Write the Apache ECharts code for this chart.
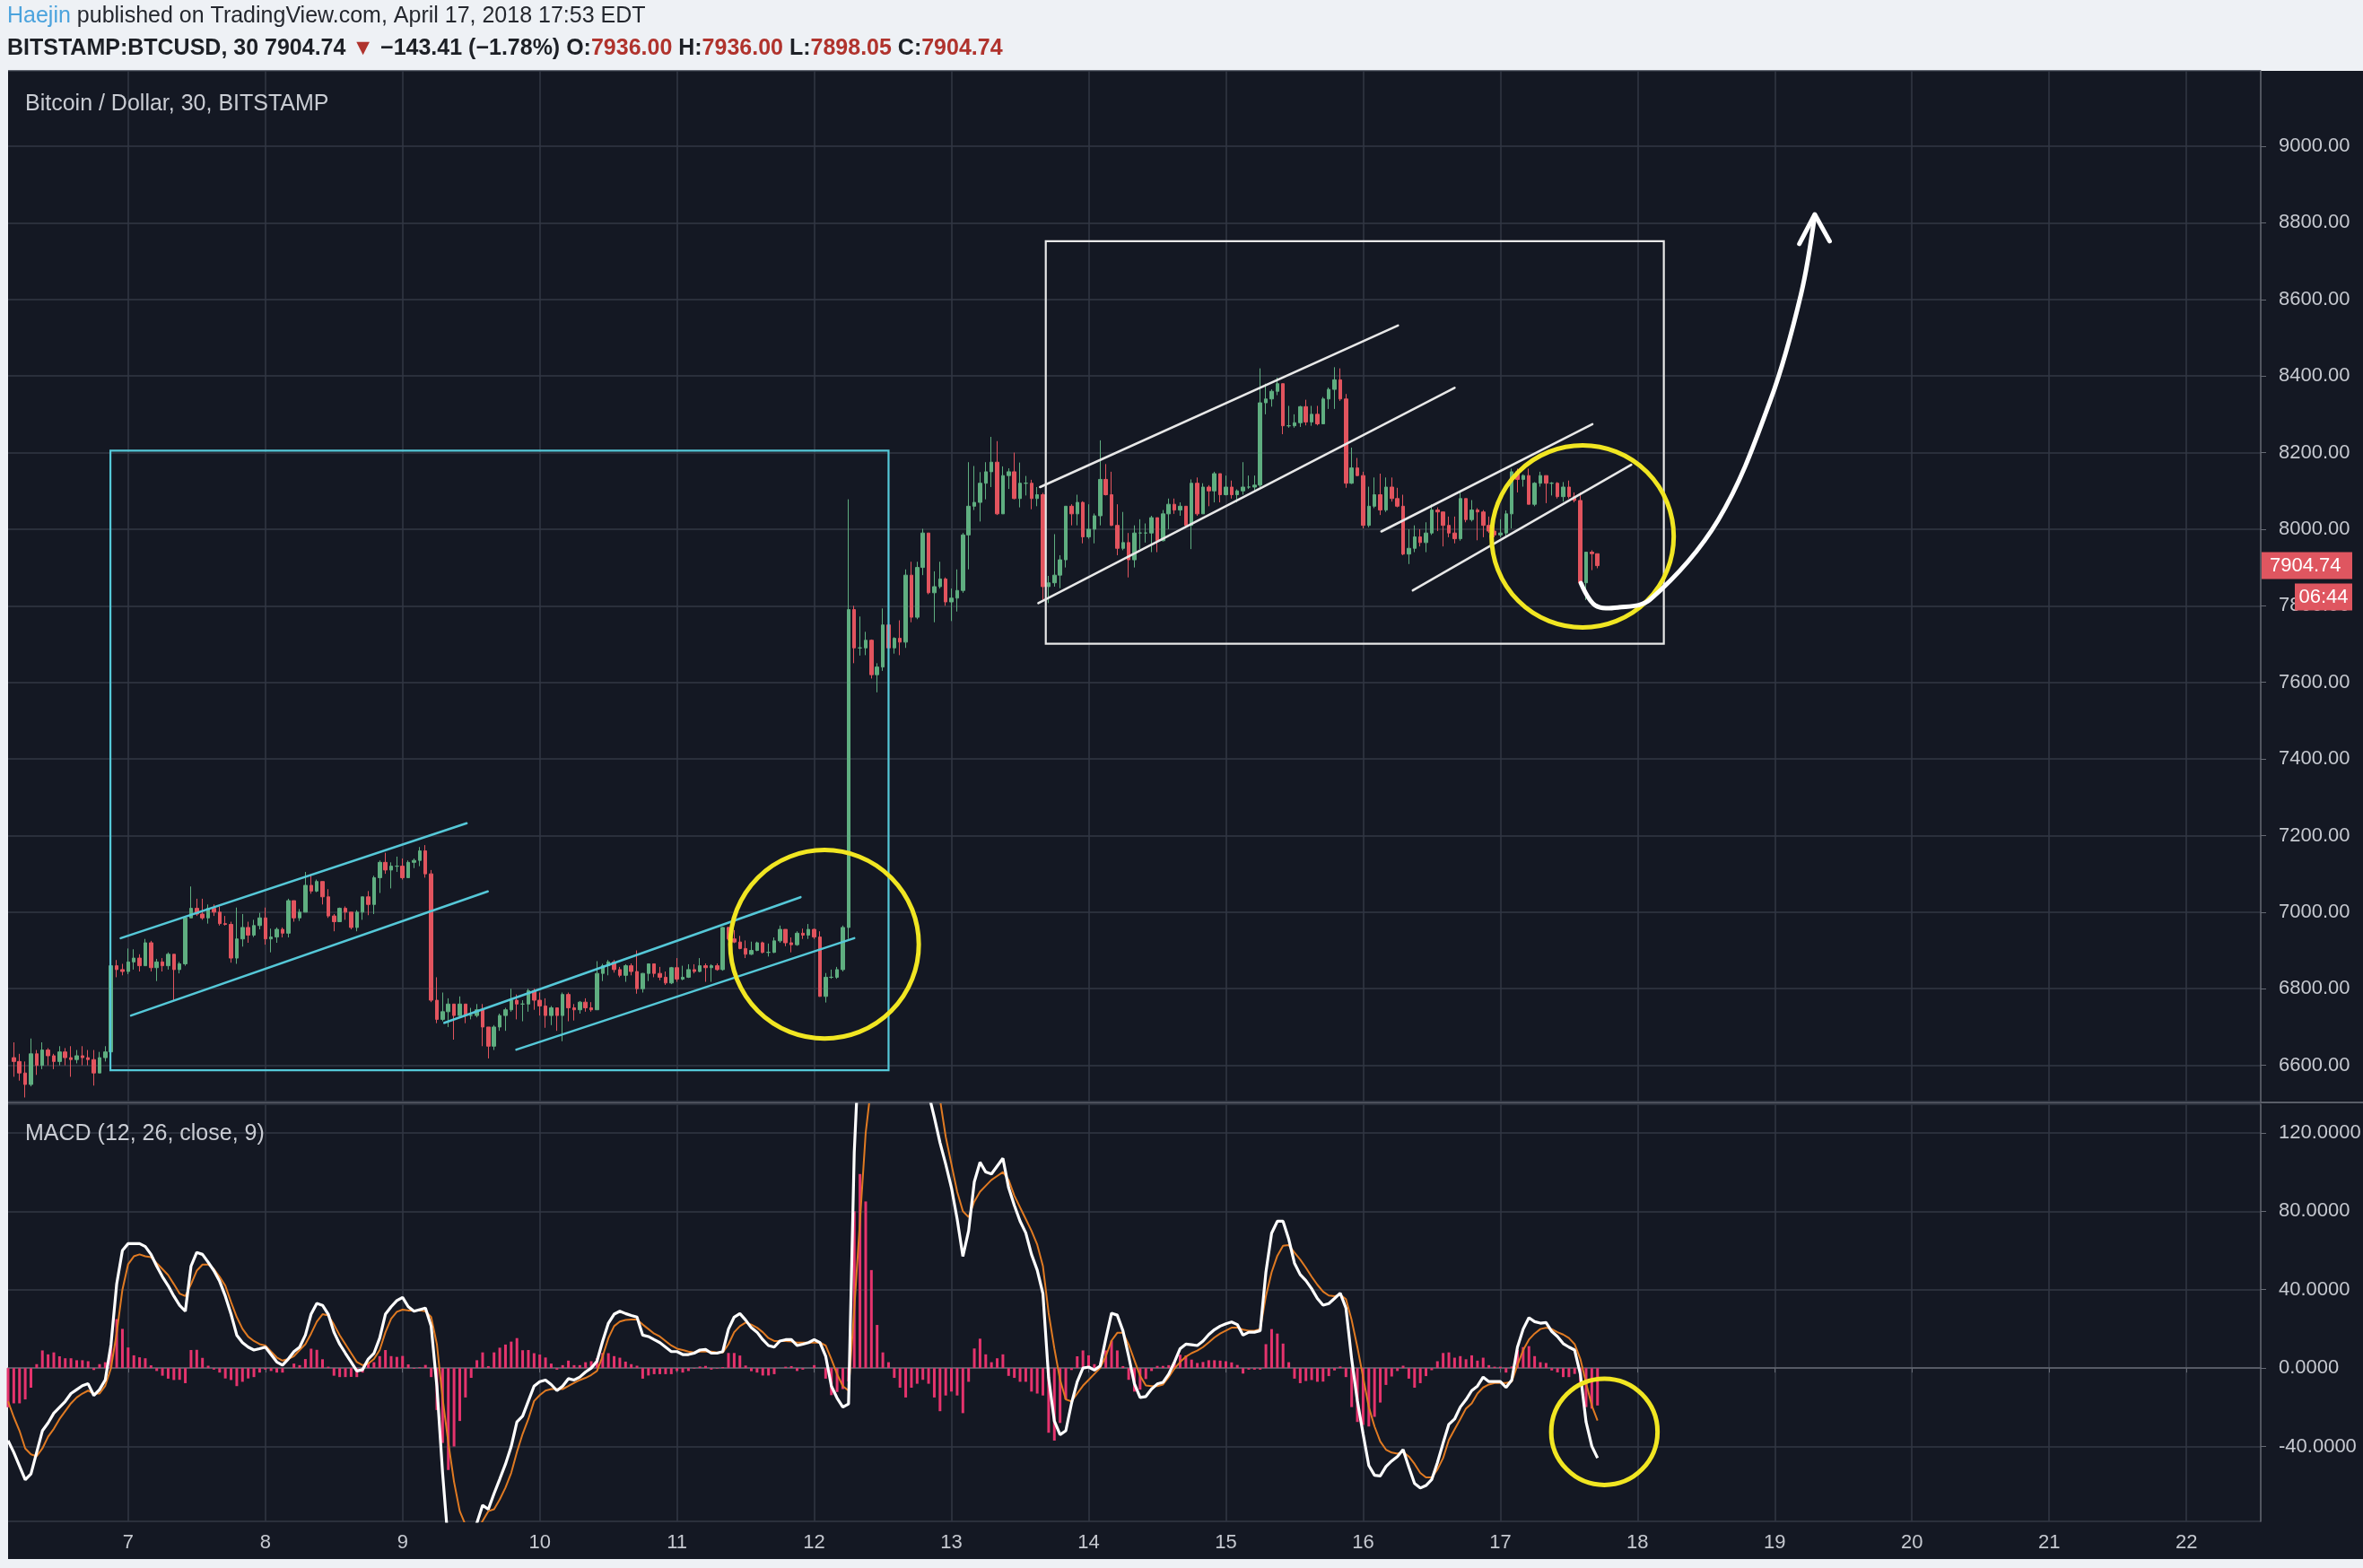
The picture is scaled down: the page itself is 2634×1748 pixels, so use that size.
<!DOCTYPE html>
<html><head><meta charset="utf-8">
<script src="https://cdn.jsdelivr.net/npm/echarts@6.0.0/dist/echarts.min.js"></script>
<style>html,body{margin:0;padding:0;background:#eef1f5;}#c{width:2634px;height:1748px;}</style>
</head><body><div id="c"></div>
<script>
// ---------- DATA (hourly slots; slot 21 = April 7 00:00) ----------
const SLOT_COUNT = 395;
const FIRST_DAY_SLOT = 21;
const SLOTS_PER_DAY = 24;
const dayLabels = ['7','8','9','10','11','12','13','14','15','16','17','18','19','20','21','22'];

const firstCandleSlot = 1;
const firstOpen = 6620;
const closes = [
6610,6580,6550,6630,6600,6640,6625,6610,6635,6620,
6615,6625,6620,6615,6580,6620,6635,6860,6850,6845,
6870,6880,6860,6920,6855,6870,6860,6890,6850,6865,
6985,7010,6995,6985,7010,7000,6970,6968,6880,6930,
6960,6940,6965,6985,6930,6935,6955,6945,7030,6985,
7000,7070,7055,7080,7040,6990,6975,7010,7000,6960,
7000,7040,7020,7090,7130,7110,7120,7120,7090,7130,
7135,7160,7100,6770,6720,6740,6760,6730,6760,6730,
6730,6745,6700,6650,6700,6730,6745,6770,6760,6760,
6795,6770,6755,6730,6750,6730,6785,6750,6745,6765,
6750,6745,6840,6860,6870,6850,6835,6860,6845,6800,
6840,6865,6840,6830,6815,6855,6825,6830,6850,6845,
6860,6855,6860,6850,6960,6930,6922,6905,6890,6900,
6920,6895,6895,6925,6955,6920,6915,6945,6940,6955,
6935,6780,6830,6830,6850,6960,7790,7690,7690,7710,
7620,7640,7750,7690,7715,7705,7880,7770,7900,7990,
7834,7850,7870,7810,7820,7840,7985,8060,8070,8120,
8150,8175,8040,8140,8150,8080,8120,8120,8080,8090,
7850,7860,7880,7920,8060,8040,8070,7980,8000,8035,
8130,8090,8010,7950,7965,7920,7990,7990,7990,8030,
7970,8040,8065,8050,8060,8010,8120,8040,8110,8100,
8145,8090,8110,8090,8100,8110,8110,8115,8330,8340,
8360,8380,8270,8270,8278,8320,8280,8300,8275,8340,
8365,8390,8340,8120,8160,8140,8010,8060,8090,8050,
8110,8080,8060,7935,7950,7980,7965,7990,8050,8045,
8010,7990,7975,8080,8025,8050,8045,8010,7995,7985,
7990,8040,8150,8130,8140,8065,8120,8140,8120,8120,
8085,8110,8085,8075,7860,7940,7936,7904.74];
const highs = [
6660,6630,6610,6670,6640,6660,6645,6630,6650,6645,
6650,6640,6650,6640,6640,6635,6650,6905,6875,6865,
6905,6903,6890,6930,6925,6878,6880,6895,6890,6870,
6990,7067,7035,7035,7020,7020,7015,6990,6975,7012,
6995,6975,6980,6998,7012,6957,6960,6960,7035,7030,
7008,7105,7100,7085,7080,7060,6995,7012,7015,7000,
7005,7040,7055,7095,7135,7155,7130,7145,7140,7135,
7140,7170,7175,7110,6830,6790,6775,6760,6780,6760,
6750,6760,6760,6700,6705,6735,6750,6800,6785,6770,
6800,6800,6790,6775,6755,6750,6790,6790,6760,6768,
6775,6765,6872,6865,6875,6875,6857,6864,6866,6900,
6841,6866,6865,6857,6845,6857,6880,6860,6864,6864,
6880,6866,6864,6866,6961,6962,6953,6938,6926,6923,
6923,6923,6918,6934,6965,6955,6934,6950,6957,6969,
6957,6950,6841,6850,6857,6965,8078,7800,7772,7732,
7712,7650,7793,7752,7718,7762,7895,7915,7915,8001,
7990,7890,7915,7874,7845,7895,7990,8175,8165,8149,
8175,8241,8230,8164,8159,8200,8174,8139,8129,8110,
8095,7878,7987,7932,8060,8065,8090,8073,8065,8041,
8232,8170,8150,8065,8045,7990,8010,8026,8015,8035,
8030,8050,8080,8080,8070,8060,8130,8135,8120,8115,
8150,8145,8140,8127,8104,8175,8140,8140,8420,8380,
8365,8396,8380,8322,8300,8322,8338,8322,8322,8345,
8370,8423,8420,8353,8213,8186,8150,8111,8135,8145,
8135,8135,8108,8090,8000,8010,8000,8018,8065,8057,
8045,8033,8033,8096,8080,8076,8055,8050,8033,8026,
8026,8049,8158,8158,8143,8158,8123,8150,8140,8123,
8123,8123,8127,8096,8096,7940,7945,7936];
const lows = [
6570,6560,6516,6545,6575,6590,6600,6590,6600,6600,
6570,6605,6600,6600,6547,6580,6610,6630,6830,6835,
6838,6850,6845,6860,6845,6820,6845,6850,6768,6840,
6860,6985,6990,6980,6970,6990,6965,6965,6868,6865,
6910,6920,6935,6955,6915,6895,6920,6934,6934,6975,
6977,7000,7048,7052,7020,6985,6950,6975,6980,6955,
6950,6980,6992,6995,7050,7100,7062,7105,7085,7090,
7115,7120,7090,6765,6710,6715,6700,6667,6725,6710,
6720,6725,6650,6618,6640,6690,6690,6740,6720,6715,
6740,6745,6730,6698,6705,6690,6663,6715,6717,6735,
6740,6740,6745,6820,6835,6842,6830,6818,6835,6787,
6790,6820,6830,6822,6810,6812,6818,6822,6828,6840,
6843,6818,6818,6847,6847,6926,6919,6903,6880,6888,
6898,6892,6884,6893,6920,6911,6895,6912,6930,6930,
6930,6779,6764,6826,6826,6845,6930,7650,7670,7671,
7610,7574,7630,7681,7675,7671,7690,7757,7765,7880,
7830,7757,7845,7800,7760,7785,7834,7895,8050,8020,
8078,8110,8037,8040,8105,8078,8057,8088,8052,8060,
7815,7807,7850,7846,7900,8010,8010,7963,7975,7963,
8010,8088,8008,7932,7945,7874,7900,7948,7965,7940,
7940,7968,8000,8040,8035,8005,7948,8035,8040,8060,
8070,8070,8088,8080,8070,8090,8105,8100,8110,8300,
8320,8350,8248,8265,8265,8267,8271,8270,8271,8275,
8314,8314,8335,8108,8118,8138,8002,8005,8055,8037,
8045,8072,8057,7932,7909,7940,7955,7940,7985,7995,
7955,7979,7963,7970,8018,8020,7971,7979,7990,7979,
7979,7979,8002,8096,8111,8065,8060,8111,8068,8088,
8080,8072,8080,8070,7854,7815,7893,7898.05];

const firstMacdSlot = 0;
const macdValues = [
-37,-43,-50,-57,-54,-43,-32,-28,-23,-20,
-17,-13,-11,-9,-8,-14,-11,-6,12,43,
60,63.5,63.5,63.5,62,58,52,46.6,42,36.7,
32,29,52,59,58,54,49.7,44.3,36.7,27.5,
16.8,13,10.7,9.2,9.9,10.7,6.9,3.1,1.5,4.6,
8.4,10.7,16.8,27.5,33,32,27.5,18.3,12.2,7.6,
3.1,-1.5,-0.8,4.6,7.6,15.3,27.5,31.3,34.4,36,
31.3,29,29.8,30.6,21.4,-9.2,-53.5,-90,-98,-100,
-95,-88,-79,-70,-72,-64,-56.6,-49,-40,-27.5,
-24.5,-16.8,-9.2,-6.9,-6.1,-8.4,-11.5,-9.2,-5.4,-6.1,
-4.6,-2,0,3.5,13.8,22.9,27.5,29,27.8,26.8,
26,16.8,16.1,14.5,13,10.7,8.4,8.4,6.9,6.9,
7.6,9.2,9.5,7.6,7.6,8.4,19.9,26,27.8,24.5,
20.6,18.3,14.5,11.5,10.7,13.8,14.5,14.5,11.5,12.2,
13,14.5,13,6.1,-9.2,-15.3,-19.9,-18.3,110,174,
205,195,180,173,171,163,156,148,150,148,
146,140,128,115,104,92,76,57,70,95,
105,100,99,103,107,92,83,75,69,58,
50,38,-5,-27,-34,-32,-18,-7,0,0.5,
-1,1,15,28,27,19,6,-8,-15,-14.5,
-10.7,-8.1,-7.3,-3.1,3.1,9.9,12.2,11.9,11.5,13.8,
17.1,19.6,21.4,22.6,23.5,22.2,16.8,18.3,18.3,19.1,
48.9,68.8,74.9,74.9,65.7,53.5,47.7,44.6,40.5,35.5,
32.1,32.9,35.5,38.2,30.6,4.6,-16.8,-33.6,-49.7,-54.7,
-55,-50.2,-47.4,-45.1,-41.6,-50.5,-58.9,-61.2,-59.9,-56.9,
-48.2,-38.2,-28.7,-26,-19.9,-16.1,-11.5,-9.2,-4.6,-6.9,
-6.9,-6.9,-9.9,-6.1,10.7,19.9,25.7,23.7,22.9,23.2,
18.7,16.1,12.5,10.7,9.2,-3.1,-27.5,-39.8,-45.9];
const signalValues = [
-17,-25,-32,-41,-44,-45,-41,-35,-31,-26,
-22,-18,-15,-13,-11.5,-13,-13,-9,0,18,
40,53,57,58,57,56.6,53.5,50.5,47.4,42.8,
38,36.7,42.8,49.7,52.8,52.8,50.5,46.6,42,33.6,
26,20,16,13.8,12.2,11.5,8.4,5.4,3.8,4.6,
6.1,9.2,12.2,17.6,23.7,27.5,26.8,22.2,16.8,12.2,
7.6,3.1,1.5,2.3,4.6,9.2,18.3,25.2,28.7,29.8,
29.4,29.4,29.4,29,26,12.2,-15.3,-38,-58,-73,
-80,-83,-83,-78,-73,-72,-67,-61,-53.5,-42.8,
-33.6,-26,-16.8,-13.8,-11.5,-10.7,-10.7,-10.7,-9.2,-7.6,
-6.1,-5,-3.5,-1.5,6.1,15.3,21.4,23.7,24.5,24.8,
24.8,22.2,19.9,17.6,16.1,13.8,11.5,9.9,9.2,8.4,
7.9,8.4,8.4,8.4,7.9,7.9,12.2,18.3,21.4,23.2,
22.2,20.6,18.3,15.3,13.8,13.8,13.8,13.5,13,13,
13,13,13,11.5,4.6,-3.1,-9.2,-11.5,30,75,
120,145,158,165,168,168,166,163,160,156,
152,148,143,137,118,104,90,80,77,85,
90,93,96,98,100,96,88,82,76,70,
63,52,28,10,-6,-16,-17,-13,-9,-6,
-3,0,6,14,18,18,12,4,-4,-8.9,
-9.2,-9.2,-8.4,-4.6,-0.3,3.1,5.8,7.6,8.9,10.7,
13.1,15.6,17.6,19.1,20.6,20.6,19.6,19.1,19.1,19.9,
36.7,48.9,57.3,62.4,62.7,58.9,55.4,51.2,46.6,42.5,
39,37,36.7,37.4,35.2,24.5,10.7,-4.6,-19.9,-29.8,
-37.4,-41.6,-43.1,-43.6,-42.8,-45.1,-48.9,-53.5,-55.8,-55.8,
-51.7,-45.9,-36.7,-31.3,-26,-20.6,-18,-13,-9.9,-8.4,
-7.6,-7.6,-7.6,-6.9,1.5,9.2,14.5,17.6,19.9,20.6,
19.9,18.3,17.1,15.3,12.2,4.6,-7.6,-19.1,-26.8];

// annotations in data units: [slot, price]
const cyanBox = [17.9, 154, 6587, 8205];      // slot0, slot1, priceLow, priceHigh
const whiteBox = [181.5, 289.6, 7701, 8752];
const cyanLines = [[[19.7,6932],[80.2,7232]],[[21.5,6730],[83.9,7054]],[[76.3,6711],[138.6,7039]],[[88.9,6641],[148,6932]]];
const whiteLines = [[[180.5,8110],[243.1,8532]],[[180.2,7807],[253,8369]],[[240.2,7994],[277.1,8274]],[[245.7,7840],[283.9,8168]]];
const priceCircles = [[142.8,6916,16.5,246],[275.4,7981,15.85,239]]; // slot, price, slotRadius, priceRadius
const macdCircle = [279.2,-32.5,9.3,27.1];
const arrowPath = [[275.1,7859],[277.6,7801],[281.8,7796],[287.2,7816],[299.1,8024],[308.3,8339],[313.6,8614],[316,8820]];
const arrowHead = [[313.3,8745],[316,8822],[318.6,8752]];
const lastPrice = 7904.74;
const lastPriceText = '7904.74';
const countdownText = '06:44';

// ---------- BUILD ----------
const F = "'Liberation Sans', Arial, sans-serif";
const UP = '#5fae80', DOWN = '#e2545e';
const GRID = '#323744', AXIS = '#666a74', LABEL = '#c6c9d0';
const CYAN = '#55c8d8', YELLOW = '#f1e622', ANNW = '#e8e8e8';

const cats = Array.from({length: SLOT_COUNT}, (_, i) => String(i));
const isDay = (i) => i >= FIRST_DAY_SLOT && (i - FIRST_DAY_SLOT) % SLOTS_PER_DAY === 0;

const candles = closes.map((c, i) => [firstCandleSlot + i, i === 0 ? firstOpen : closes[i - 1], c, lows[i], highs[i]]);
const macdData = macdValues.map((v, i) => [firstMacdSlot + i, v]);
const signalData = signalValues.map((v, i) => [firstMacdSlot + i, v]);
const histData = macdValues.map((v, i) => [firstMacdSlot + i, +(v - signalValues[i]).toFixed(2)]);

function P(api, k, v) {
  const k0 = Math.floor(k), f = k - k0;
  const a = api.coord([k0, v]);
  if (f < 1e-9) return a;
  const b = api.coord([k0 + 1, v]);
  return [a[0] + (b[0] - a[0]) * f, a[1]];
}
function circleEl(api, c, color) {
  const ctr = P(api, c[0], c[1]);
  const rx = P(api, c[0] + c[2], c[1])[0] - ctr[0];
  const ry = ctr[1] - P(api, c[0], c[1] + c[3])[1];
  return {type: 'circle', shape: {cx: ctr[0], cy: ctr[1], r: (rx + ry) / 2}, style: {fill: 'none', stroke: color, lineWidth: 5}};
}
function mainOverlay(params, api) {
  const ch = [];
  const box = (b, color) => {
    const a = P(api, b[0], b[3]), c = P(api, b[1], b[2]);
    ch.push({type: 'rect', shape: {x: a[0], y: a[1], width: c[0] - a[0], height: c[1] - a[1]}, style: {fill: 'none', stroke: color, lineWidth: 2.2}});
  };
  box(cyanBox, CYAN); box(whiteBox, ANNW);
  const seg = (l, color) => {
    const a = P(api, l[0][0], l[0][1]), b = P(api, l[1][0], l[1][1]);
    ch.push({type: 'line', shape: {x1: a[0], y1: a[1], x2: b[0], y2: b[1]}, style: {stroke: color, lineWidth: 2.6, lineCap: 'round'}});
  };
  cyanLines.forEach(l => seg(l, CYAN));
  whiteLines.forEach(l => seg(l, ANNW));
  priceCircles.forEach(c => ch.push(circleEl(api, c, YELLOW)));
  ch.push({type: 'polyline', shape: {points: arrowPath.map(p => P(api, p[0], p[1])), smooth: 0.35},
    style: {fill: 'none', stroke: '#ffffff', lineWidth: 5, lineCap: 'round', lineJoin: 'round'}});
  ch.push({type: 'polyline', shape: {points: arrowHead.map(p => P(api, p[0], p[1]))},
    style: {fill: 'none', stroke: '#ffffff', lineWidth: 5, lineCap: 'round', lineJoin: 'round'}});
  // last price tag on the price scale
  const y = api.coord([0, lastPrice])[1];
  const xr = api.coord([SLOT_COUNT - 1, lastPrice])[0];
  ch.push({type: 'rect', shape: {x: xr + 1, y: y - 15, width: 101, height: 30}, style: {fill: '#df5660'}});
  ch.push({type: 'text', x: xr + 10, y: y, style: {text: lastPriceText, fill: '#ffffff', font: '22px ' + F, align: 'left', verticalAlign: 'middle'}});
  ch.push({type: 'rect', shape: {x: xr + 38, y: y + 20, width: 64, height: 30}, style: {fill: '#df5660'}});
  ch.push({type: 'text', x: xr + 70, y: y + 35, style: {text: countdownText, fill: '#ffffff', font: '22px ' + F, align: 'center', verticalAlign: 'middle'}});
  return {type: 'group', children: ch};
}
function macdOverlay(params, api) {
  return {type: 'group', children: [circleEl(api, macdCircle, YELLOW)]};
}

const priceFmt = v => (Math.abs(v / 200 - Math.round(v / 200)) < 1e-6 ? v.toFixed(2) : '');
const macdFmt = v => (Math.abs(v / 40 - Math.round(v / 40)) < 1e-6 ? v.toFixed(4) : '');
const dayInterval = (i) => isDay(i);

const chart = echarts.init(document.getElementById('c'), null, {renderer: 'canvas', width: 2634, height: 1748});
chart.setOption({
  animation: false,
  backgroundColor: '#141823',
  textStyle: {fontFamily: F},
  title: [
    {left: 8, top: 6, padding: 0, text: '{a|Haejin} {b|published on TradingView.com, April 17, 2018 17:53 EDT}',
      textStyle: {fontSize: 25, fontWeight: 'normal', color: '#222', fontFamily: F, rich: {
        a: {color: '#4ba3dd', fontSize: 25, fontFamily: F}, b: {color: '#24272e', fontSize: 25, fontFamily: F}}}},
    {left: 8, top: 42, padding: 0,
      text: '{k|BITSTAMP:BTCUSD, 30 7904.74 }{r|▼}{k| −143.41 (−1.78%) O:}{r|7936.00}{k| H:}{r|7936.00}{k| L:}{r|7898.05}{k| C:}{r|7904.74}',
      textStyle: {fontSize: 25, fontFamily: F, rich: {
        k: {color: '#1d2026', fontSize: 25, fontWeight: 'bold', fontFamily: F},
        r: {color: '#b0332d', fontSize: 25, fontWeight: 'bold', fontFamily: F}}}},
    {left: 28, top: 104, padding: 0, text: 'Bitcoin / Dollar, 30, BITSTAMP',
      textStyle: {color: '#c9ccd3', fontSize: 25, fontWeight: 'normal', fontFamily: F}},
    {left: 28, top: 1252, padding: 0, text: 'MACD (12, 26, close, 9)',
      textStyle: {color: '#c9ccd3', fontSize: 25, fontWeight: 'normal', fontFamily: F}}
  ],
  graphic: [
    {type: 'rect', silent: true, shape: {x: 0, y: 0, width: 2634, height: 79}, style: {fill: '#eef1f5'}},
    {type: 'rect', silent: true, shape: {x: 0, y: 79, width: 9, height: 1669}, style: {fill: '#eef1f5'}},
    {type: 'rect', silent: true, shape: {x: 0, y: 1738, width: 2634, height: 10}, style: {fill: '#eef1f5'}},
    {type: 'line', silent: true, shape: {x1: 9, y1: 1229, x2: 2634, y2: 1229}, style: {stroke: '#5a5e68', lineWidth: 2}}
  ],
  grid: [
    {left: 9, right: 114, top: 79, height: 1149, outerBoundsMode: 'none', containLabel: false},
    {left: 9, right: 114, top: 1231, height: 465, outerBoundsMode: 'none', containLabel: false}
  ],
  xAxis: [
    {type: 'category', gridIndex: 0, data: cats, boundaryGap: false,
      axisLine: {show: false}, axisTick: {show: false}, axisLabel: {show: false},
      splitLine: {show: true, interval: dayInterval, lineStyle: {color: GRID, width: 1.5}}},
    {type: 'category', gridIndex: 1, data: cats, boundaryGap: false,
      axisLine: {show: true, lineStyle: {color: AXIS, width: 1.5}},
      axisTick: {show: true, interval: dayInterval, length: 5, lineStyle: {color: AXIS}},
      axisLabel: {show: true, interval: dayInterval, margin: 13, color: LABEL, fontSize: 22, fontFamily: F,
        formatter: (v, i) => dayLabels[(i - FIRST_DAY_SLOT) / SLOTS_PER_DAY] || ''},
      splitLine: {show: true, interval: dayInterval, lineStyle: {color: GRID, width: 1.5}}}
  ],
  yAxis: [
    {type: 'value', gridIndex: 0, position: 'right', min: 6505.4, max: 9196.8, minInterval: 200, maxInterval: 200, splitNumber: 13,
      axisLine: {show: true, lineStyle: {color: AXIS, width: 1.5}},
      axisTick: {show: true, length: 6, lineStyle: {color: AXIS}},
      axisLabel: {color: LABEL, fontSize: 22, fontFamily: F, margin: 20, formatter: priceFmt, showMinLabel: false, showMaxLabel: false},
      splitLine: {show: true, lineStyle: {color: GRID, width: 1.5}}},
    {type: 'value', gridIndex: 1, position: 'right', min: -78.2, max: 134.6, minInterval: 40, maxInterval: 40, splitNumber: 5,
      axisLine: {show: true, lineStyle: {color: AXIS, width: 1.5}},
      axisTick: {show: true, length: 6, lineStyle: {color: AXIS}},
      axisLabel: {color: LABEL, fontSize: 22, fontFamily: F, margin: 20, formatter: macdFmt, showMinLabel: false, showMaxLabel: false},
      splitLine: {show: true, lineStyle: {color: GRID, width: 1.5}}}
  ],
  series: [
    {type: 'candlestick', name: 'BTCUSD', xAxisIndex: 0, yAxisIndex: 0, data: candles,
      encode: {x: 0, y: [1, 2, 3, 4]}, barWidth: 4,
      itemStyle: {color: UP, color0: DOWN, borderColor: UP, borderColor0: DOWN, borderWidth: 1}},
    {type: 'bar', name: 'Histogram', xAxisIndex: 1, yAxisIndex: 1, data: histData, barWidth: 3,
      itemStyle: {color: '#e5336d'}, z: 2},
    {type: 'line', name: 'Signal', xAxisIndex: 1, yAxisIndex: 1, data: signalData, symbol: 'none', showSymbol: false,
      lineStyle: {color: '#e07a22', width: 2}, z: 3, clip: true},
    {type: 'line', name: 'MACD', xAxisIndex: 1, yAxisIndex: 1, data: macdData, symbol: 'none', showSymbol: false,
      lineStyle: {color: '#ffffff', width: 3.2}, z: 4, clip: true},
    {type: 'custom', xAxisIndex: 0, yAxisIndex: 0, data: [[0, 7000]], renderItem: mainOverlay, silent: true, z: 10, clip: false},
    {type: 'custom', xAxisIndex: 1, yAxisIndex: 1, data: [[0, 0]], renderItem: macdOverlay, silent: true, z: 10, clip: false}
  ]
});
</script></body></html>
